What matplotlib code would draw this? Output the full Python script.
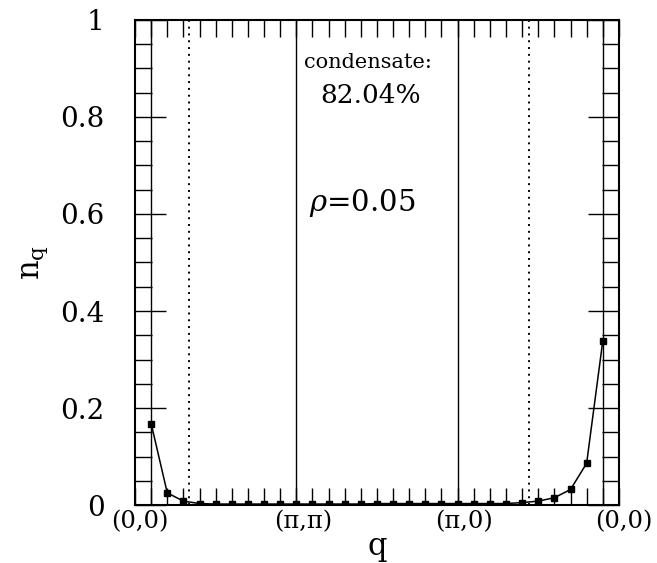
import numpy as np
import matplotlib
matplotlib.use('Agg')
import matplotlib.pyplot as plt
from matplotlib.ticker import MultipleLocator, FixedLocator, FixedFormatter

plt.rcParams['font.family'] = 'DejaVu Serif'
plt.rcParams['mathtext.fontset'] = 'dejavuserif'

# momentum path index along (0,0)->(pi,pi)->(pi,0)->(0,0)
q_idx = np.arange(29)
n_q = [0.168, 0.025, 0.008, 0.003, 0.002, 0.002, 0.002, 0.002, 0.002, 0.002,
       0.002, 0.002, 0.002, 0.002, 0.003, 0.003, 0.003, 0.003, 0.003, 0.003,
       0.003, 0.003, 0.003, 0.005, 0.008, 0.015, 0.032, 0.086, 0.338]

path_pos = [0, 9, 19, 28]
path_labels = ['(0,0)', '(π,π)', '(π,0)', '(0,0)']
label_shift = [-0.7, 0.4, 0.4, 1.3]
kf_pos = [2.35, 23.4]

fig = plt.figure(figsize=(6.57, 5.63), dpi=100)
ax = fig.add_axes([0.2055, 0.103, 0.7365, 0.8615])

for p in path_pos:
    ax.axvline(p, color='black', lw=1.0)
for p in kf_pos:
    ax.axvline(p, color='black', lw=1.4, ls=(0, (1, 2.5)))

ax.plot(q_idx, n_q, color='black', lw=1.1, marker='s', ms=5, mfc='black', mec='black')

ax.set_xlim(-1, 29)
ax.set_ylim(0, 1)

ax.set_xticks([])
ax.xaxis.set_minor_locator(MultipleLocator(1))
ax.yaxis.set_major_locator(FixedLocator([0, 0.2, 0.4, 0.6, 0.8, 1.0]))
ax.yaxis.set_major_formatter(FixedFormatter(['0', '0.2', '0.4', '0.6', '0.8', '1']))
ax.yaxis.set_minor_locator(MultipleLocator(0.05))
ax.tick_params(which='both', direction='in', top=True, bottom=True, left=True, right=True, width=1.0)
ax.tick_params(axis='x', which='minor', length=12)
ax.tick_params(axis='y', which='major', length=22, labelsize=20, pad=22)
ax.tick_params(axis='y', which='minor', length=12)
for s in ax.spines.values():
    s.set_linewidth(1.5)

for p, lab, dx in zip(path_pos, path_labels, label_shift):
    ax.text(p + dx, -0.035, lab, ha='center', va='center', fontsize=17.5,
            transform=ax.get_xaxis_transform())

ax.set_xlabel('q', fontsize=22, labelpad=15)
ax.set_ylabel(r'$\mathrm{n_q}$', fontsize=22, labelpad=7)

ax.text(0.481, 0.913, 'condensate:', transform=ax.transAxes, ha='center', va='center', fontsize=15)
ax.text(0.486, 0.845, '82.04%', transform=ax.transAxes, ha='center', va='center', fontsize=19)
ax.text(0.469, 0.623, r'$\rho$=0.05', transform=ax.transAxes, ha='center', va='center', fontsize=21)

fig.savefig('out.png', dpi=100)
